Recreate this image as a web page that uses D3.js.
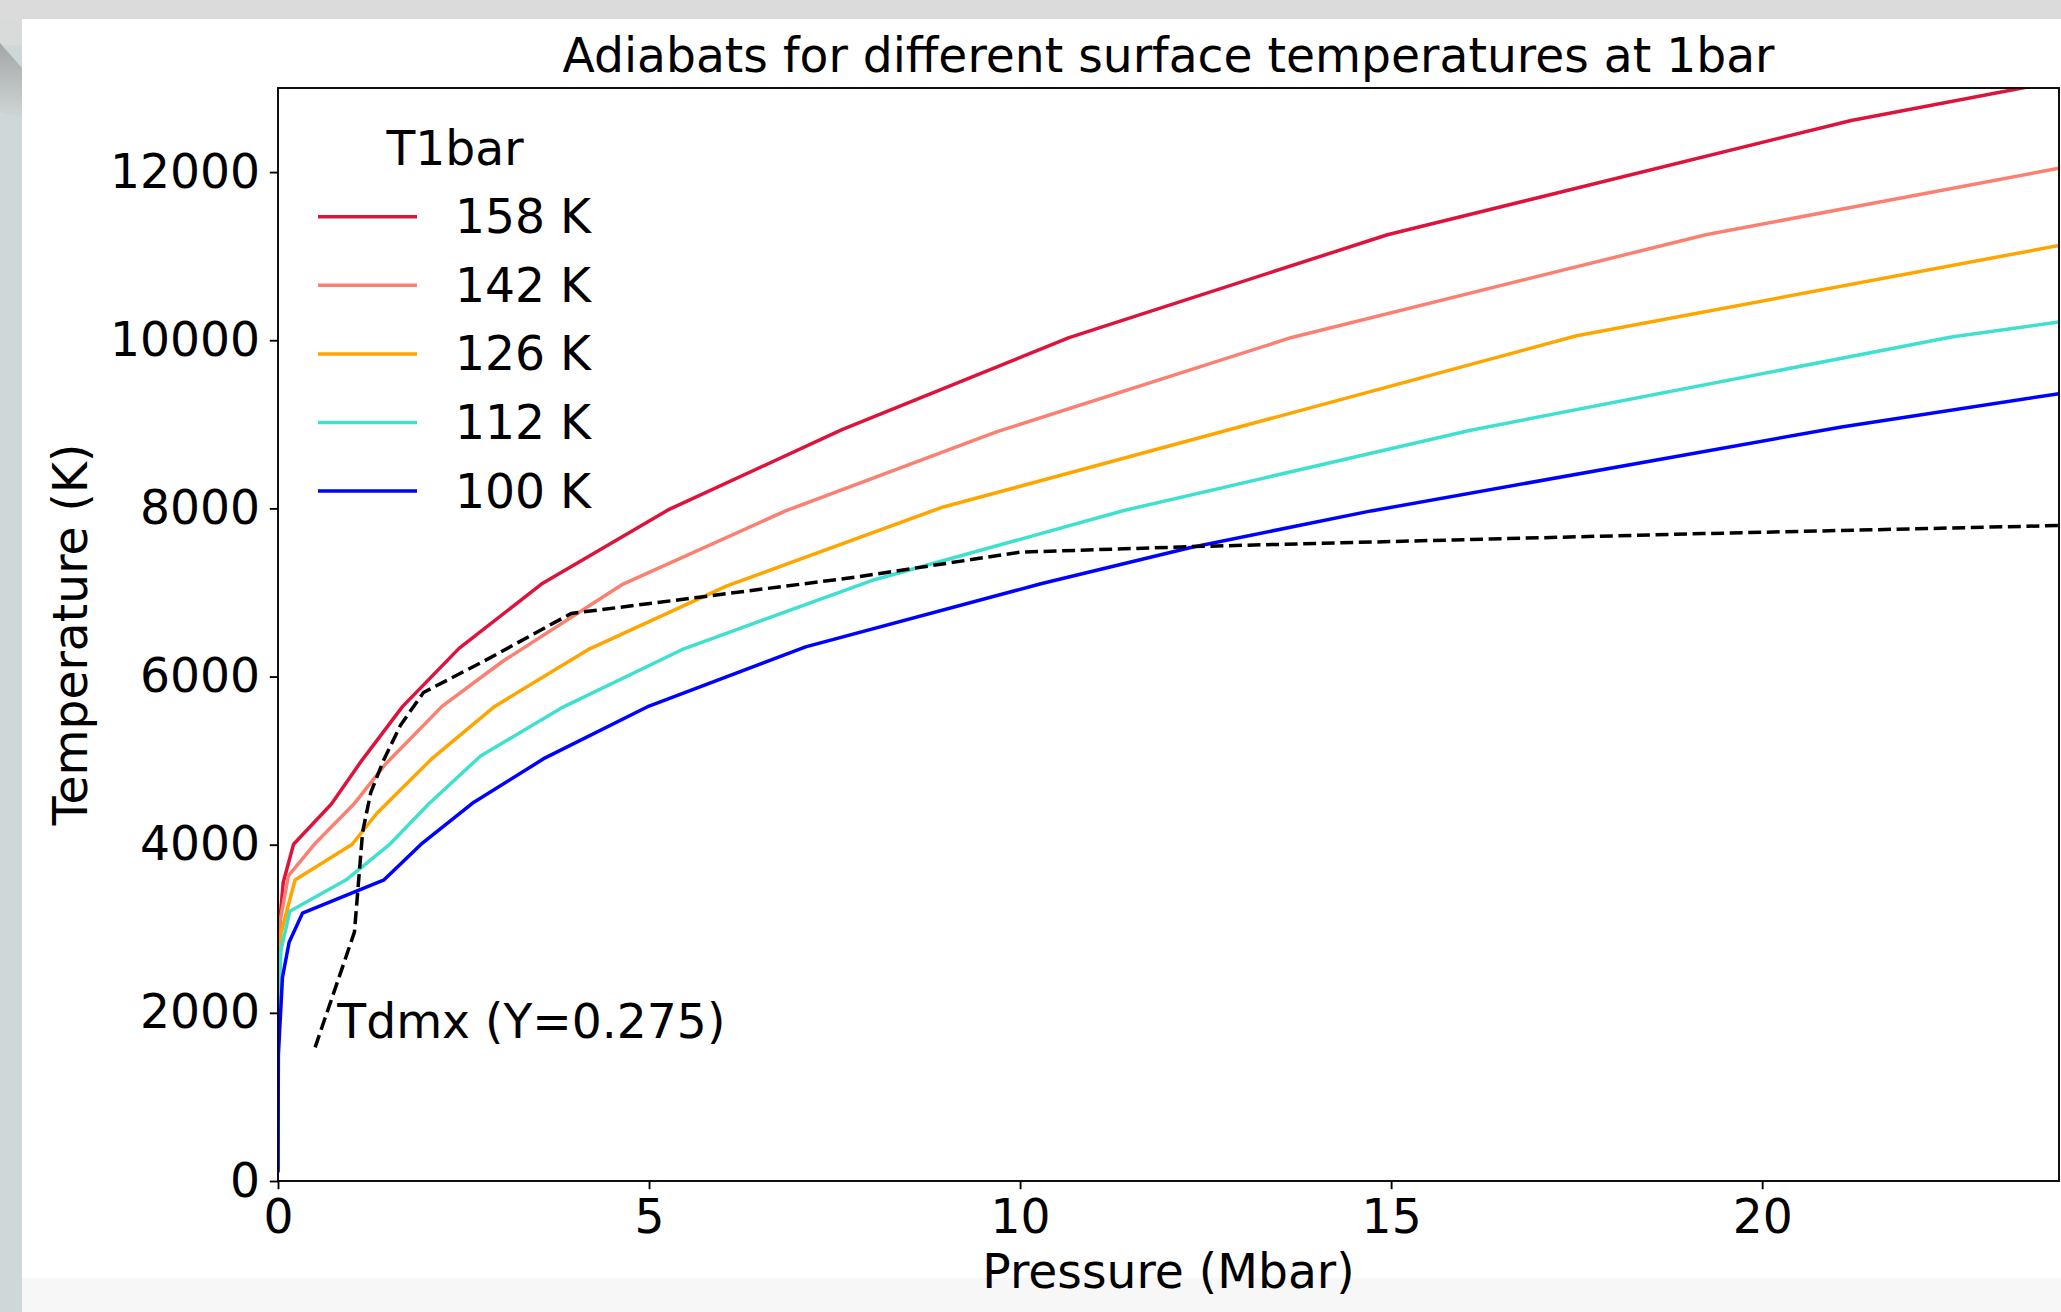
<!DOCTYPE html>
<html lang="en">
<head>
  <meta charset="UTF-8">
  <title>Adiabats for different surface temperatures at 1bar</title>
  <script src="https://d3js.org/d3.v7.min.js"></script>
  <style>
    body {
      margin: 0;
      background: #fff;
    }
    svg text {
      font-family: "DejaVu Sans", sans-serif;
      fill: #000;
    }
    .adiabat {
      fill: none;
      stroke-width: 3.5px;
      stroke-linejoin: round;
    }
  </style>
</head>
<body>

  <svg id="chart" width="2061" height="1312"></svg>

  <script>
    // tick labels
    const pressureTicks = [0, 5, 10, 15, 20];
    const temperatureTicks = [0, 2000, 4000, 6000, 8000, 10000, 12000];

    // legend entries (surface temperature at 1 bar)
    const surfaceTemps = ["158 K", "142 K", "126 K", "112 K", "100 K"];
    const lineColors = ["crimson", "salmon", "orange", "turquoise", "blue"];

    // adiabats, [pressure (Mbar), temperature (K)]
    const adiabat158 = [[0, 158], [0.005, 2500], [0.03, 3140], [0.07, 3550], [0.21, 4005], [0.72, 4484],
      [1.10, 4967], [1.68, 5645], [2.44, 6335], [3.55, 7100], [5.25, 7979], [7.60, 8936],
      [10.66, 10031], [14.95, 11255], [21.2, 12613], [24, 13083]];
    const adiabat142 = [[0, 142], [0.005, 2400], [0.03, 3100], [0.14, 3630], [0.49, 4005], [1.02, 4480],
      [1.44, 4950], [2.21, 5645], [3.02, 6176], [4.65, 7100], [6.84, 7970], [9.70, 8915],
      [13.66, 10033], [19.24, 11255], [24, 12046]];
    const adiabat126 = [[0, 126], [0.005, 2300], [0.04, 2950], [0.23, 3580], [1.0, 4005], [1.33, 4371],
      [2.07, 5020], [2.92, 5645], [4.20, 6330], [6.05, 7078], [8.94, 8010], [17.50, 10053],
      [24, 11127]];
    const adiabat112 = [[0, 112], [0.005, 2000], [0.04, 2750], [0.16, 3209], [0.92, 3582], [1.50, 4000],
      [2.03, 4484], [2.73, 5055], [3.82, 5627], [5.47, 6330], [8.00, 7142], [11.4, 7975],
      [16.07, 8930], [22.55, 10038], [24, 10217]];
    const adiabat100 = [[0, 100], [0.005, 1500], [0.06, 2420], [0.15, 2840], [0.33, 3186], [1.43, 3582],
      [1.95, 4022], [2.64, 4505], [3.60, 5033], [5.00, 5649], [7.11, 6353], [10.28, 7103],
      [12.3, 7535], [14.73, 7970], [21.07, 8969], [24, 9365]];

    // Tdmx (Y=0.275) demixing curve
    const tdmx = [[0.50, 1590], [1.03, 2960], [1.14, 4150], [1.25, 4620], [1.42, 5000], [1.65, 5420],
      [1.96, 5810], [2.8, 6195], [3.95, 6750], [5.68, 6944], [7.78, 7182], [10.0, 7479],
      [12.3, 7545], [19.2, 7700], [24, 7796]];

    const adiabats = [adiabat158, adiabat142, adiabat126, adiabat112, adiabat100];

    const width = 2061, height = 1312;
    const margin = {top: 88, right: 2, bottom: 131, left: 278};
    const innerW = width - margin.left - margin.right;
    const innerH = height - margin.top - margin.bottom;
    const fontSize = 47.2;

    const svg = d3.select("#chart");

    // screenshot surroundings
    svg.append("rect").attr("width", width).attr("height", height).attr("fill", "#ffffff");
    svg.append("rect").attr("x", 22).attr("y", 1278).attr("width", width - 22).attr("height", height - 1278)
      .attr("fill", "#f7f7f7");
    svg.append("rect").attr("width", width).attr("height", 19).attr("fill", "#dbdbdb");
    svg.append("rect").attr("y", 19).attr("width", 22).attr("height", height - 19).attr("fill", "#cfd8d8");
    svg.append("rect").attr("y", 19).attr("width", 22).attr("height", 26).attr("fill", "#d9dbdb");
    const shade = svg.append("defs").append("linearGradient").attr("id", "shade")
      .attr("x1", 0).attr("y1", 0).attr("x2", 0).attr("y2", 1);
    shade.append("stop").attr("offset", "0%").attr("stop-color", "#a4a6a6");
    shade.append("stop").attr("offset", "100%").attr("stop-color", "#cfd6d6");
    svg.append("path").attr("d", "M0,43 L22,68 L22,118 L0,112 Z").attr("fill", "url(#shade)");

    const g = svg.append("g").attr("transform", "translate(" + margin.left + "," + margin.top + ")");

    const x = d3.scaleLinear().domain([0, 24]).range([0, innerW]);
    const y = d3.scaleLinear().domain([0, 13000]).range([innerH, 0]);

    g.append("clipPath").attr("id", "plotClip")
      .append("rect").attr("width", innerW).attr("height", innerH);

    // axes
    const xAxis = g.append("g")
      .attr("transform", "translate(0," + innerH + ")")
      .call(d3.axisBottom(x).tickValues(pressureTicks).tickFormat(d3.format("d"))
        .tickSize(8.2).tickSizeOuter(0).tickPadding(10.4));
    const yAxis = g.append("g")
      .call(d3.axisLeft(y).tickValues(temperatureTicks).tickFormat(d3.format("d"))
        .tickSize(8.2).tickSizeOuter(0).tickPadding(9.8));

    [xAxis, yAxis].forEach(a => {
      a.select(".domain").remove();
      a.selectAll(".tick line").attr("stroke", "#000").attr("stroke-width", 1.87);
      a.selectAll(".tick text").attr("font-size", fontSize + "px")
        .attr("font-family", "'DejaVu Sans', sans-serif").attr("fill", "#000");
    });

    // lines
    const line = d3.line().x(d => x(d[0])).y(d => y(d[1]));
    const plot = g.append("g").attr("clip-path", "url(#plotClip)");

    plot.selectAll(".adiabat")
      .data(adiabats)
      .enter().append("path")
      .attr("class", "adiabat")
      .attr("stroke", (d, i) => lineColors[i])
      .attr("d", line);

    plot.append("path")
      .datum(tdmx)
      .attr("fill", "none")
      .attr("stroke", "#000")
      .attr("stroke-width", 3.5)
      .attr("stroke-dasharray", "12.95 5.6")
      .attr("d", line);

    // frame
    g.append("rect")
      .attr("width", innerW).attr("height", innerH)
      .attr("fill", "none").attr("stroke", "#000").attr("stroke-width", 1.87);

    // annotation
    g.append("text")
      .attr("x", x(0.8)).attr("y", y(1700))
      .attr("font-size", fontSize + "px")
      .text("Tdmx (Y=0.275)");

    // titles
    svg.append("text")
      .attr("x", margin.left + innerW / 2).attr("y", 72)
      .attr("text-anchor", "middle")
      .attr("font-size", fontSize + "px")
      .text("Adiabats for different surface temperatures at 1bar");

    svg.append("text")
      .attr("x", margin.left + innerW / 2).attr("y", 1288)
      .attr("text-anchor", "middle")
      .attr("font-size", fontSize + "px")
      .text("Pressure (Mbar)");

    svg.append("text")
      .attr("transform", "translate(87," + (margin.top + innerH / 2) + ") rotate(-90)")
      .attr("text-anchor", "middle")
      .attr("font-size", fontSize + "px")
      .text("Temperature (K)");

    // legend
    const legend = svg.append("g").attr("transform", "translate(318,216.7)");
    legend.append("text")
      .attr("x", 137).attr("y", -51.7)
      .attr("text-anchor", "middle")
      .attr("font-size", fontSize + "px")
      .text("T1bar");

    const item = legend.selectAll(".item")
      .data(surfaceTemps)
      .enter().append("g")
      .attr("class", "item")
      .attr("transform", (d, i) => "translate(0," + (i * 68.6) + ")");

    item.append("line")
      .attr("x1", 0).attr("x2", 99)
      .attr("stroke", (d, i) => lineColors[i])
      .attr("stroke-width", 3.5);

    item.append("text")
      .attr("x", 137).attr("y", 16.5)
      .attr("font-size", fontSize + "px")
      .text(d => d);
  </script>

</body>
</html>
